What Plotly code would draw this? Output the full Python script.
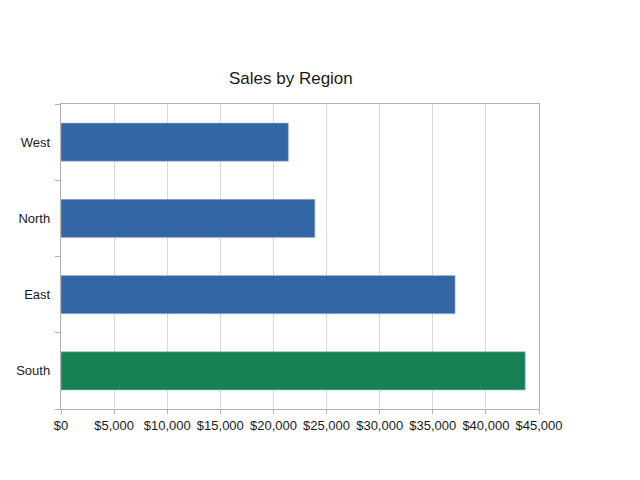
import plotly.graph_objects as go

region = ["South", "East", "North", "West"]
sales = [43700, 37100, 23900, 21400]
colour = ["#168152", "#3465a4", "#3465a4", "#3465a4"]
tick_values = [0, 5000, 10000, 15000, 20000, 25000, 30000, 35000, 40000, 45000]
tick_labels = ["$0", "$5,000", "$10,000", "$15,000", "$20,000",
               "$25,000", "$30,000", "$35,000", "$40,000", "$45,000"]

# the page puts the chart about 7px in, so margins are shifted to match
figure = go.Figure()
figure.add_trace(go.Bar(
    x=sales, y=region, orientation="h",
    marker=dict(color=colour, line=dict(color="#9fb6d4", width=0.6)),
))

figure.update_layout(
    width=640, height=480,
    margin=dict(l=53, r=109, t=96, b=79),
    paper_bgcolor="white", plot_bgcolor="white",
    font=dict(family="Liberation Sans, Arial, sans-serif", size=13, color="#1a1a1a"),
    title=dict(text="Sales by Region", x=0.442, xanchor="center", y=0.854, yanchor="middle",
               font=dict(size=17, color="#1a1a1a")),
    bargap=0.5,
    showlegend=False,
)
figure.update_xaxes(
    range=[0, 45000], tickvals=tick_values, ticktext=tick_labels, tickangle=0,
    showgrid=True, gridcolor="#d9d9d9", gridwidth=1,
    showline=True, linecolor="#b3b3b3", mirror=True,
    ticks="outside", ticklen=4, tickcolor="#b3b3b3", zeroline=False,
    automargin=False,
)
figure.update_yaxes(
    categoryorder="array", categoryarray=region,
    showline=True, linecolor="#b3b3b3", mirror=True,
    ticks="outside", ticklen=5, tickcolor="#b3b3b3", tickson="boundaries",
    showgrid=False, ticksuffix="  ", automargin=False,
)

figure.write_html("out.html")
